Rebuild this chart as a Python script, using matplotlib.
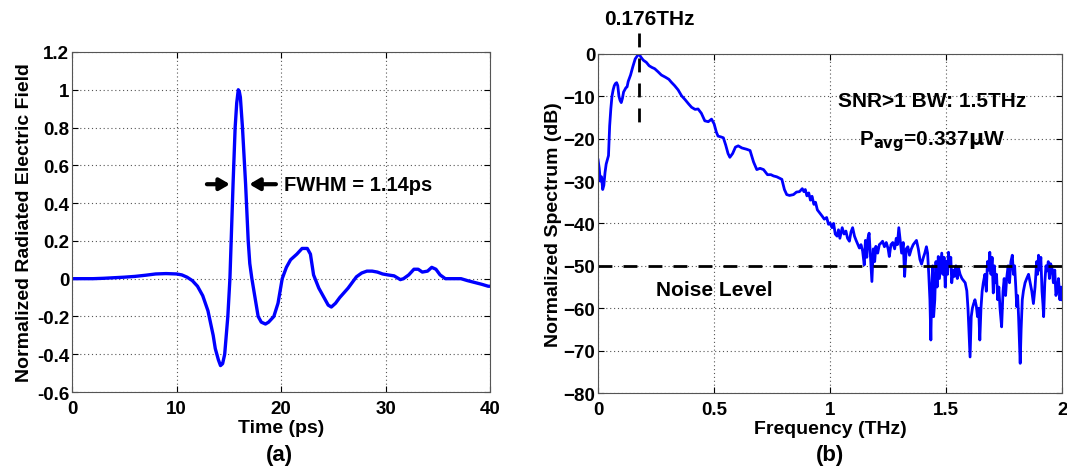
import matplotlib
matplotlib.use("Agg")
import matplotlib.pyplot as plt
import numpy as np

# time-domain pulse (ps, normalized field)
time_ps = [0, 1, 2, 3, 4, 5, 6, 7, 8, 9,
           10, 10.5, 11, 11.5, 12, 12.5, 13, 13.5, 13.7, 14,
           14.2, 14.4, 14.6, 14.9, 15.1, 15.25, 15.4, 15.6, 15.75, 15.9,
           16.0, 16.1, 16.3, 16.45, 16.6, 16.85, 17.0, 17.2, 17.5, 17.8,
           18.1, 18.5, 18.8, 19.3, 19.7, 20.1, 20.5, 20.9, 21.5, 22.0,
           22.5, 22.8, 23.1, 23.6, 24.0, 24.5, 24.8, 25.2, 25.6, 26.0,
           26.4, 26.8, 27.2, 27.7, 28.2, 28.7, 29.2, 29.7, 30.2, 30.8,
           31.4, 31.7, 32.2, 32.7, 33.1, 33.5, 34.0, 34.4, 34.8, 35.2,
           35.7, 36.5, 37.2, 37.8, 38.5, 39.2, 39.8, 40]
field = [0, 0, 0, 0.002, 0.005, 0.008, 0.012, 0.018, 0.025, 0.027,
         0.025, 0.02, 0.008, -0.01, -0.04, -0.09, -0.17, -0.3, -0.37, -0.43,
         -0.46, -0.45, -0.4, -0.2, 0.0, 0.25, 0.5, 0.8, 0.93, 1.0,
         0.99, 0.96, 0.8, 0.65, 0.5, 0.2, 0.08, 0.0, -0.1, -0.2,
         -0.23, -0.24, -0.23, -0.2, -0.13, 0.0, 0.06, 0.1, 0.13, 0.16,
         0.16, 0.13, 0.02, -0.05, -0.09, -0.14, -0.15, -0.13, -0.1, -0.075,
         -0.05, -0.02, 0.01, 0.03, 0.04, 0.04, 0.035, 0.025, 0.02, 0.015,
         -0.005, 0.0, 0.02, 0.05, 0.05, 0.035, 0.04, 0.06, 0.05, 0.02,
         0.0, 0.0, 0.0, -0.01, -0.02, -0.03, -0.04, -0.04]

# spectrum (THz, dB)
freq_thz = [0.000, 0.005, 0.010, 0.015, 0.020, 0.025, 0.030, 0.035, 0.040, 0.045,
            0.050, 0.055, 0.060, 0.065, 0.070, 0.075, 0.080, 0.085, 0.090, 0.095,
            0.100, 0.105, 0.110, 0.115, 0.120, 0.125, 0.130, 0.140, 0.150, 0.160,
            0.170, 0.176, 0.185, 0.195, 0.208, 0.220, 0.232, 0.244, 0.258, 0.273,
            0.290, 0.305, 0.316, 0.330, 0.345, 0.360, 0.375, 0.390, 0.403, 0.418,
            0.431, 0.445, 0.460, 0.475, 0.489, 0.500, 0.510, 0.517, 0.530, 0.540,
            0.550, 0.560, 0.568, 0.580, 0.592, 0.604, 0.620, 0.640, 0.655, 0.670,
            0.684, 0.698, 0.713, 0.730, 0.745, 0.756, 0.770, 0.792, 0.803, 0.813,
            0.825, 0.842, 0.855, 0.868, 0.880, 0.887, 0.893, 0.900, 0.908, 0.915,
            0.922, 0.930, 0.937, 0.945, 0.955, 0.966, 0.975, 0.985, 0.993, 1.000,
            1.008, 1.015, 1.022, 1.030, 1.036, 1.042, 1.052, 1.060, 1.068, 1.075,
            1.083, 1.090, 1.097, 1.105, 1.112, 1.120, 1.126, 1.133, 1.140, 1.147,
            1.152, 1.158, 1.163, 1.168, 1.173, 1.180, 1.186, 1.192, 1.197, 1.205,
            1.212, 1.220, 1.226, 1.234, 1.242, 1.250, 1.255, 1.262, 1.270, 1.278,
            1.285, 1.290, 1.296, 1.302, 1.308, 1.315, 1.321, 1.328, 1.335, 1.342,
            1.350, 1.358, 1.365, 1.372, 1.380, 1.387, 1.394, 1.402, 1.408, 1.415,
            1.420, 1.425, 1.430, 1.434, 1.438, 1.442, 1.446, 1.451, 1.456, 1.461,
            1.466, 1.471, 1.476, 1.481, 1.486, 1.491, 1.496, 1.501, 1.506, 1.510,
            1.515, 1.520, 1.524, 1.530, 1.536, 1.542, 1.548, 1.553, 1.560, 1.568,
            1.575, 1.582, 1.589, 1.594, 1.598, 1.603, 1.608, 1.613, 1.618, 1.624,
            1.630, 1.635, 1.640, 1.645, 1.650, 1.655, 1.660, 1.667, 1.673, 1.678,
            1.683, 1.688, 1.693, 1.698, 1.703, 1.708, 1.712, 1.717, 1.722, 1.727,
            1.732, 1.739, 1.745, 1.750, 1.756, 1.761, 1.767, 1.773, 1.779, 1.785,
            1.790, 1.795, 1.800, 1.804, 1.808, 1.812, 1.816, 1.819, 1.823, 1.828,
            1.833, 1.840, 1.847, 1.855, 1.862, 1.869, 1.876, 1.883, 1.890, 1.894,
            1.898, 1.903, 1.908, 1.913, 1.917, 1.920, 1.925, 1.930, 1.935, 1.940,
            1.945, 1.950, 1.956, 1.962, 1.968, 1.973, 1.978, 1.984, 1.990, 1.995,
            2.000]
spectrum_db = [-25, -27, -30, -29, -32, -31, -28, -26, -25, -24,
               -17, -13, -10, -8.5, -7.5, -7, -6.8, -7.5, -10, -11,
               -11.5, -10.5, -9, -8.5, -8, -7.8, -6.5, -5, -3, -1.2,
               -0.4, 0, -0.8, -1.5, -2, -2.8, -3.2, -3.5, -4.2, -5,
               -5.5, -6, -6.7, -7.5, -8.5, -9.9, -10.8, -11.8, -12.6, -13.1,
               -13, -14, -15.8, -16, -15.4, -16.5, -18.5, -19.4, -19.6, -19.8,
               -21.5, -23.5, -24.4, -23.5, -22, -21.7, -22.2, -22.5, -22.8, -25.5,
               -27.3, -27, -27.3, -28.5, -28.5, -28.8, -29, -29.6, -32, -33.2,
               -33.4, -33.2, -32.6, -32.5, -31.8, -32.5, -32, -33.5, -32.8, -34.5,
               -33.6, -35.5, -35, -36.8, -37.5, -38.3, -39, -38.6, -40.2, -39.9,
               -41, -40, -42.5, -43, -41.5, -43.5, -41, -42.5, -41.8, -43.5,
               -44.2, -42, -41, -43, -44, -45, -45.8, -45, -46.5, -49.8,
               -44, -48, -43.5, -42.3, -47, -53.7, -46, -49, -45.4, -47,
               -45, -44.6, -44.2, -45.5, -44.5, -46, -47.8, -45, -44.5, -46,
               -43.5, -45, -41, -44, -47, -44.5, -52.5, -46, -45.5, -47.5,
               -46, -45, -44.5, -44, -46, -48.5, -49.6, -48, -47, -45.5,
               -47, -52, -58, -67.5, -55, -50, -62, -58, -49, -55,
               -47.8, -53, -50, -47, -52, -48, -55, -49, -52, -46.8,
               -50, -48, -54, -51, -52.5, -50, -53, -50.4, -52, -53,
               -53.5, -54, -55.9, -60, -65, -71.5, -62, -60, -59, -58,
               -59.5, -62, -60, -67.5, -60, -56, -54, -52, -56, -49,
               -51, -46.8, -52, -48, -56.4, -50, -54, -52, -58, -55,
               -60, -64.4, -56, -53, -57, -52.8, -50, -54, -49, -47.5,
               -52, -50, -55, -59.6, -57, -62, -68, -73, -65, -58,
               -55.9, -54, -53, -52, -54, -56, -58.9, -55, -49, -52,
               -47.5, -51, -48, -56, -59, -62, -54, -50, -51.2, -49,
               -53, -49.5, -50.4, -54, -51, -57, -55.9, -53, -58, -55,
               -58]

noise_db = -50
peak_thz = 0.176

BLUE = "#0000ff"
FONT = "Liberation Sans"
TICK_SIZE = 13.5
LABEL_SIZE = 14
NOTE_SIZE = 15

plt.rcParams["font.family"] = FONT
plt.rcParams["font.weight"] = "bold"

fig = plt.figure(figsize=(10.67, 4.77), dpi=100)
ax1 = fig.add_axes([0.0675, 0.176, 0.392, 0.713])
ax2 = fig.add_axes([0.5605, 0.174, 0.435, 0.711])


def style_axes(ax):
    ax.grid(True, linestyle=(0, (1, 2.5)), color="#555555", linewidth=0.8)
    ax.tick_params(direction="in", top=True, right=True, length=4, width=0.8,
                   labelsize=TICK_SIZE)
    ax.tick_params(axis="y", pad=2)
    ax.tick_params(axis="x", pad=6)
    for spine in ax.spines.values():
        spine.set_color("#555555")
        spine.set_linewidth(0.8)
    for lab in ax.get_xticklabels() + ax.get_yticklabels():
        lab.set_fontweight("bold")


# panel (a)
ax1.plot(time_ps, field, color=BLUE, linewidth=2.4)
ax1.set_xlim(0, 40)
ax1.set_ylim(-0.6, 1.2)
ax1.set_xticks([0, 10, 20, 30, 40])
ax1.set_yticks(np.round(np.arange(-0.6, 1.21, 0.2), 1))
ax1.set_yticklabels(["-0.6", "-0.4", "-0.2", "0", "0.2", "0.4", "0.6", "0.8", "1", "1.2"])
style_axes(ax1)
ax1.set_xlabel("Time (ps)", fontsize=LABEL_SIZE, fontweight="bold", labelpad=1)
ax1.set_ylabel("Normalized Radiated Electric Field", fontsize=LABEL_SIZE,
               fontweight="bold", labelpad=3)
ax1.annotate("", xy=(15.1, 0.5), xytext=(12.9, 0.5),
             arrowprops=dict(arrowstyle="-|>,head_length=0.6,head_width=0.35",
                             color="black", lw=3, shrinkA=0, shrinkB=0))
ax1.annotate("", xy=(16.95, 0.5), xytext=(19.5, 0.5),
             arrowprops=dict(arrowstyle="-|>,head_length=0.6,head_width=0.35",
                             color="black", lw=3, shrinkA=0, shrinkB=0))
ax1.text(20.3, 0.5, "FWHM = 1.14ps", fontsize=14.5, fontweight="bold", va="center")
fig.text(0.262, 0.045, "(a)", fontsize=16, fontweight="bold", ha="center", va="center")

# panel (b)
ax2.plot(freq_thz, spectrum_db, color=BLUE, linewidth=2.0)
ax2.set_xlim(0, 2)
ax2.set_ylim(-80, 0)
ax2.set_xticks([0, 0.5, 1, 1.5, 2])
ax2.set_xticklabels(["0", "0.5", "1", "1.5", "2"])
ax2.set_yticks(np.arange(-80, 1, 10))
style_axes(ax2)
ax2.set_xlabel("Frequency (THz)", fontsize=LABEL_SIZE, fontweight="bold", labelpad=1)
ax2.set_ylabel("Normalized Spectrum (dB)", fontsize=LABEL_SIZE, fontweight="bold",
               labelpad=1)
ax2.plot([0, 2.02], [noise_db, noise_db], color="black", linestyle=(0, (5, 4)),
         linewidth=2, clip_on=False)
ax2.plot([peak_thz, peak_thz], [5, -16.5], color="black", linestyle=(0, (5, 4)),
         linewidth=2, clip_on=False)
ax2.text(0.22, 6, "0.176THz", fontsize=NOTE_SIZE, fontweight="bold", ha="center",
         va="bottom")
ax2.text(1.44, -11, "SNR>1 BW: 1.5THz", fontsize=NOTE_SIZE, fontweight="bold",
         ha="center", va="center")
ax2.text(1.44, -20.5, r"P$_{\mathbf{avg}}$=0.337$\mathbf{\mu}$W", fontsize=NOTE_SIZE,
         fontweight="bold", ha="center", va="center")
ax2.text(0.5, -55.5, "Noise Level", fontsize=NOTE_SIZE, fontweight="bold", ha="center",
         va="center")
fig.text(0.778, 0.045, "(b)", fontsize=16, fontweight="bold", ha="center", va="center")

fig.savefig("out.png", dpi=100)
